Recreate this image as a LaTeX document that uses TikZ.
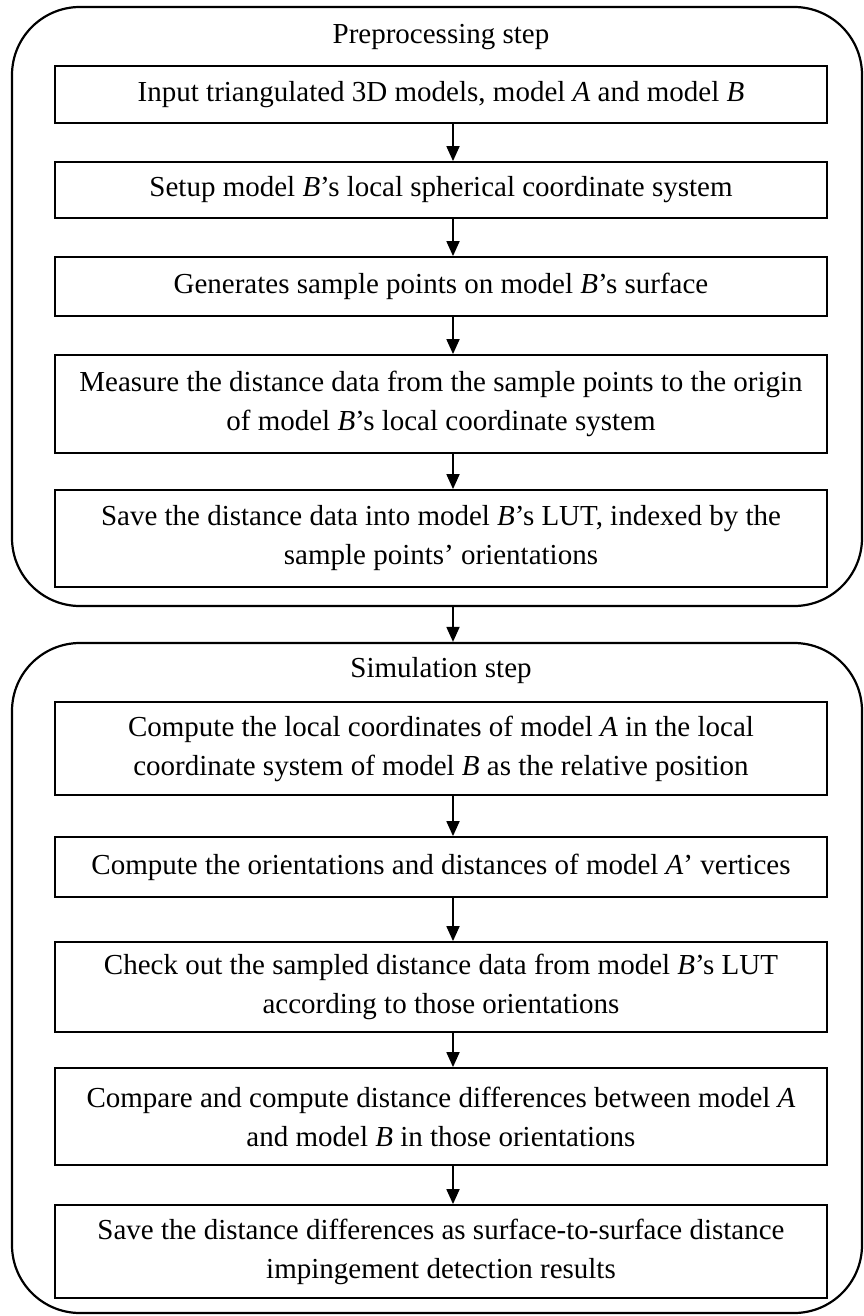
\documentclass[tikz,border=0pt]{standalone}
\usepackage{fontspec}
\setmainfont{Liberation Serif}
\usetikzlibrary{arrows.meta}
\begin{document}
\begin{tikzpicture}[x=1pt,y=1pt,
  stagebox/.style={draw, line width=2.2pt, rounded corners=68pt, minimum width=850pt, inner sep=0pt},
  stepbox/.style={draw, line width=1.8pt, minimum width=772pt, inner sep=0pt, align=center,
    font=\fontsize{29}{39}\selectfont},
  titletext/.style={font=\fontsize{29}{35}\selectfont, inner sep=0pt},
  flow/.style={line width=1.8pt, -{Triangle[length=15pt,width=13pt]}}
]
\useasboundingbox (0,0) rectangle (863,-1316);

% stage frames
\node[stagebox, minimum height=599pt] (pre) at (437,-306.5) {};
\node[stagebox, minimum height=670pt] (sim) at (437,-978) {};

\node[titletext] (pretitle) at (441,-37) {Preprocessing step};
\node[titletext] (simtitle) at (441,-671) {Simulation step};

% preprocessing steps
\node[stepbox, minimum height=57pt] (b1) at (441,-94.5)
  {Input triangulated 3D models, model \textit{A} and model \textit{B}};
\node[stepbox, minimum height=56pt] (b2) at (441,-190)
  {Setup model \textit{B}’s local spherical coordinate system};
\node[stepbox, minimum height=59pt] (b3) at (441,-286.5)
  {Generates sample points on model \textit{B}’s surface};
\node[stepbox, minimum height=98pt] (b4) at (441,-404)
  {Measure the distance data from the sample points to the origin\\of model \textit{B}’s local coordinate system};
\node[stepbox, minimum height=97pt] (b5) at (441,-538.5)
  {Save the distance data into model \textit{B}’s LUT, indexed by the\\sample points’ orientations};

% simulation steps
\node[stepbox, minimum height=93pt] (b6) at (441,-748.5)
  {Compute the local coordinates of model \textit{A} in the local\\coordinate system of model \textit{B} as the relative position};
\node[stepbox, minimum height=60pt] (b7) at (441,-867)
  {Compute the orientations and distances of model \textit{A}’ vertices};
\node[stepbox, minimum height=90pt] (b8) at (441,-987)
  {Check out the sampled distance data from model \textit{B}’s LUT\\according to those orientations};
\node[stepbox, minimum height=97pt] (b9) at (441,-1116.5)
  {Compare and compute distance differences between model \textit{A}\\and model \textit{B} in those orientations};
\node[stepbox, minimum height=93pt] (b10) at (441,-1251.5)
  {Save the distance differences as surface-to-surface distance\\impingement detection results};

% flow arrows
\coordinate (ax) at (453,0);
\draw[flow] (b1.south -| ax) -- (b2.north -| ax);
\draw[flow] (b2.south -| ax) -- (b3.north -| ax);
\draw[flow] (b3.south -| ax) -- (b4.north -| ax);
\draw[flow] (b4.south -| ax) -- (b5.north -| ax);
\draw[flow] (pre.south -| ax) -- (sim.north -| ax);
\draw[flow] (b6.south -| ax) -- (b7.north -| ax);
\draw[flow] (b7.south -| ax) -- (b8.north -| ax);
\draw[flow] (b8.south -| ax) -- (b9.north -| ax);
\draw[flow] (b9.south -| ax) -- (b10.north -| ax);
\end{tikzpicture}
\end{document}
